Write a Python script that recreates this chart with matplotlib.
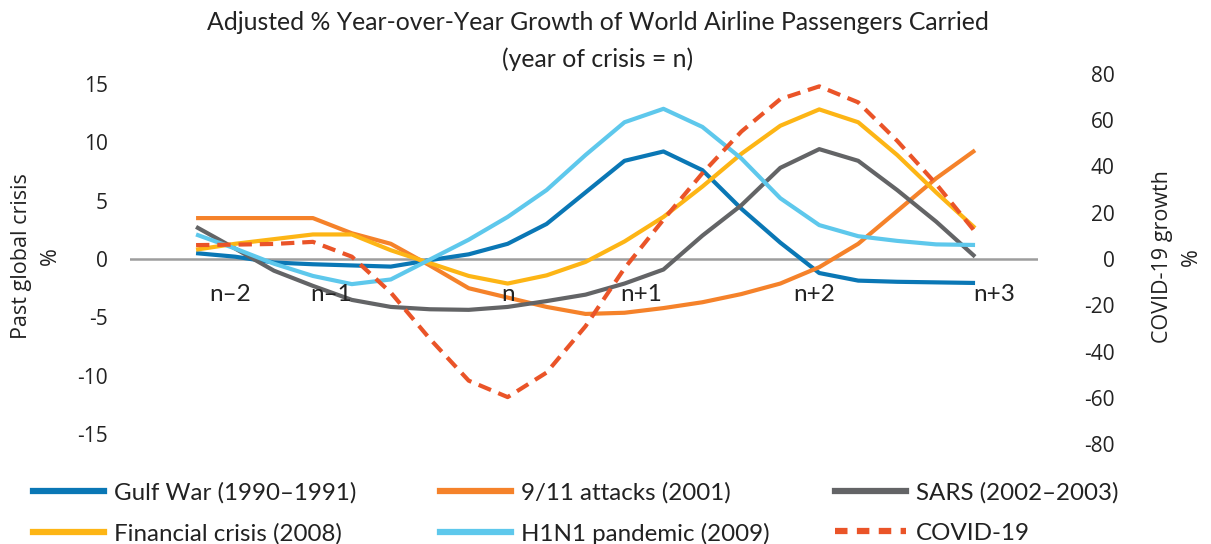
import numpy as np
import matplotlib
matplotlib.use("Agg")
import matplotlib.pyplot as plt
from matplotlib.lines import Line2D

plt.rcParams['axes.unicode_minus'] = False

# quarterly steps from two years before the crisis year to three years after
quarters = np.arange(-2, 3.01, 0.25)

gulf_war = [0.5, 0.2, -0.3, -0.45, -0.55, -0.65, -0.1, 0.4, 1.3, 3.0, 5.7,
            8.4, 9.2, 7.6, 4.3, 1.4, -1.2, -1.85, -1.95, -2.0, -2.05]
attacks_911 = [3.5, 3.5, 3.5, 3.5, 2.2, 1.3, -0.55, -2.5, -3.3, -4.1, -4.7,
               -4.6, -4.2, -3.7, -3.0, -2.1, -0.7, 1.3, 4.1, 6.9, 9.3]
sars = [2.75, 0.9, -1.0, -2.3, -3.5, -4.1, -4.3, -4.35, -4.1, -3.6, -3.05,
        -2.1, -0.9, 2.0, 4.6, 7.8, 9.4, 8.4, 5.9, 3.2, 0.2]
financial = [0.8, 1.3, 1.7, 2.1, 2.1, 0.75, -0.35, -1.45, -2.1, -1.4, -0.25,
             1.5, 3.6, 6.2, 9.0, 11.4, 12.8, 11.7, 8.9, 5.7, 2.65]
h1n1 = [2.1, 0.9, -0.4, -1.45, -2.15, -1.75, -0.05, 1.65, 3.6, 5.9, 8.9,
        11.7, 12.85, 11.3, 8.6, 5.2, 2.9, 1.95, 1.55, 1.25, 1.2]
covid = [6.0, 6.2, 6.5, 7.4, 1.0, -14.5, -34.4, -52.5, -59.6, -49, -29,
         -4, 17, 37, 55, 69, 74.5, 67.6, 51, 32.4, 11.8]

year_labels = ['n–2', 'n–1', 'n', 'n+1', 'n+2', 'n+3']
year_label_x = [-1.78, -1.13, 0.0, 0.86, 1.97, 3.12]

past_series = [
    ('Gulf War (1990–1991)', gulf_war, '#0a77b5'),
    ('9/11 attacks (2001)', attacks_911, '#f5822a'),
    ('SARS (2002–2003)', sars, '#636466'),
    ('Financial crisis (2008)', financial, '#fdb515'),
    ('H1N1 pandemic (2009)', h1n1, '#5ec8ec'),
]
covid_color = '#ea5428'
text_color = '#222222'

W, H = 1211, 544
fig = plt.figure(figsize=(W / 100, H / 100), dpi=100)
ax = fig.add_axes([130 / W, 1 - 446 / H, 908 / W, 374 / H])
ax2 = ax.twinx()

ax.axhline(0, color='#9d9d9d', lw=1.8, zorder=1)

handles = {}
for name, vals, col in past_series:
    ln, = ax.plot(quarters, vals, color=col, lw=3.0, solid_capstyle='butt', zorder=3)
    handles[name] = ln

cv, = ax2.plot(quarters, covid, color=covid_color, lw=3.0, dashes=(3.2, 1.9), zorder=4)
handles['COVID-19'] = cv

ax.set_xlim(-2.424, 3.404)
ax.set_ylim(-16, 16)
ax2.set_ylim(-80.7, 80.7)
ax.set_yticks(np.arange(-15, 16, 5))
ax2.set_yticks(np.arange(-80, 81, 20))
ax.set_xticks([])

for a in (ax, ax2):
    for s in a.spines.values():
        s.set_visible(False)
    a.tick_params(axis='y', length=0, labelsize=15, labelcolor=text_color)
ax.tick_params(axis='y', pad=16)
ax2.tick_params(axis='y', pad=55)
for lab in ax.get_yticklabels():
    lab.set_fontfamily('Open Sans')
for lab in ax2.get_yticklabels():
    lab.set_fontfamily('Open Sans')
    lab.set_horizontalalignment('right')

for lab, xpos in zip(year_labels, year_label_x):
    ax.text(xpos, -3.0, lab, ha='center', va='center', fontsize=17.5,
            family='Lato', color=text_color, zorder=5)

fig.text(36 / W, 1 - 256 / H, 'Past global crisis\n%', rotation=90, ha='center',
         va='center', multialignment='center', fontsize=15.5, family='Open Sans',
         color=text_color, linespacing=1.45)
fig.text(1177 / W, 1 - 257 / H, 'COVID-19 growth\n%', rotation=90, ha='center',
         va='center', multialignment='center', fontsize=15.5, family='Open Sans',
         color=text_color, linespacing=1.45)

fig.text(598 / W, 1 - 22 / H, 'Adjusted % Year-over-Year Growth of World Airline Passengers Carried',
         ha='center', va='center', fontsize=17.8, family='Lato', color=text_color)
fig.text(598 / W, 1 - 59 / H, '(year of crisis = n)', ha='center', va='center',
         fontsize=17.8, family='Lato', color=text_color)

# three legend columns, laid out like an evenly spaced legend box
legend_cols = [
    ['Gulf War (1990–1991)', 'Financial crisis (2008)'],
    ['9/11 attacks (2001)', 'H1N1 pandemic (2009)'],
    ['SARS (2002–2003)', 'COVID-19'],
]
col_left = [33, 440, 835]
for names, x0 in zip(legend_cols, col_left):
    hs = []
    for n in names:
        src = handles[n]
        hs.append(Line2D([], [], color=src.get_color(), lw=4.5,
                         linestyle=src.get_linestyle(),
                         dashes=(2.0, 1.5) if n == 'COVID-19' else (None, None)))
    leg = fig.legend(hs, names, loc='upper left', bbox_to_anchor=(x0 / W, 1 - 482 / H),
                     frameon=False, handlelength=2.95, handletextpad=0.4,
                     labelspacing=0.8, borderaxespad=0, borderpad=0,
                     prop=dict(family='Lato', size=17.4))
    for t in leg.get_texts():
        t.set_color(text_color)

fig.savefig('out.png', dpi=100)
